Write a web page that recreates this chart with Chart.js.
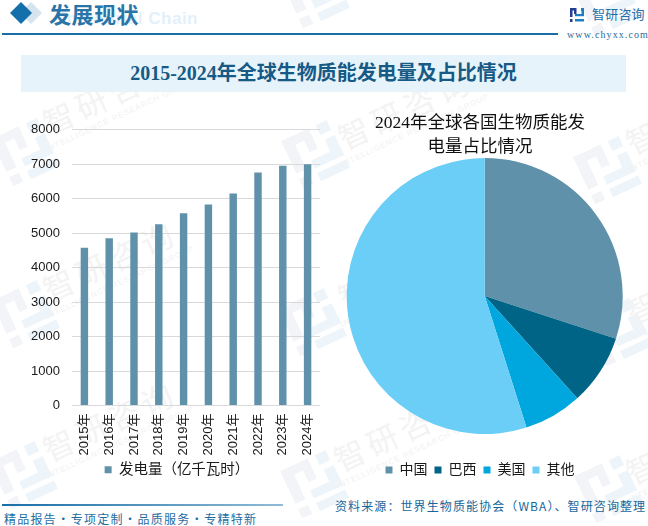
<!DOCTYPE html>
<html lang="zh">
<head>
<meta charset="utf-8">
<title>全球生物质能发电量</title>
<script src="https://cdn.jsdelivr.net/npm/chart.js@4"></script>
<style>
  html, body { margin: 0; padding: 0; background: #fff; }
  #page { position: relative; width: 648px; height: 526px; overflow: hidden; font-family: "Noto Sans CJK SC", sans-serif; }
  #page > * { position: absolute; }
  #page div { white-space: nowrap; }
  #marks { left: 0; top: 0; }
  #heading { left: 49px; top: -3px; font-size: 22px; line-height: 32px; font-weight: 700; color: #2a75a8; letter-spacing: 0.5px; }
  #ghost { right: 450px; top: 7px; font: 700 17px/24px "Liberation Sans", sans-serif; color: #e3f0fa; letter-spacing: 0.5px; }
  #rule { left: 2px; top: 33px; width: 556px; height: 2px; background: #1a6ea6; }
  #band { left: 21px; top: 55px; width: 605px; height: 37px; background: #e6f3fb; text-align: center; font: 700 20px/37px "Liberation Serif", "Noto Sans CJK SC", serif; color: #165a85; }
  #brand { left: 592px; top: 5px; font-size: 13px; line-height: 18px; color: #1f6da6; letter-spacing: 0.2px; }
  #site { left: 567px; top: 28px; font: 10px/14px "Liberation Serif", serif; color: #2a6a9b; letter-spacing: 1.1px; }
  #foot-rule { left: 2px; top: 504px; width: 281px; height: 2px; background: linear-gradient(90deg, #1a6ea6, #8fbbd6); }
  #slogan { left: 4px; top: 510px; font-size: 12px; line-height: 18px; color: #1f6d9f; letter-spacing: 1.2px; word-spacing: -3.5px; }
  #source { left: 335px; top: 497px; font-size: 12px; line-height: 18px; color: #16679c; letter-spacing: 1.1px; }
  #bars { left: 0; top: 110px; }
  #pie { left: 330px; top: 105px; }
</style>
</head>
<body>
<div id="page">
  <svg id="marks" width="648" height="526"></svg>
  <div id="ghost">Industrial Chain</div>
  <div id="heading">发展现状</div>
  <div id="rule"></div>
  <div id="band">2015-2024年全球生物质能发电量及占比情况</div>
  <div id="brand">智研咨询</div>
  <div id="site">www.chyxx.com</div>
  <canvas id="pie" width="300" height="382"></canvas>
  <canvas id="bars" width="330" height="377"></canvas>
  <div id="foot-rule"></div>
  <div id="slogan">精品报告 · 专项定制 · 品质服务 · 专精特新</div>
  <div id="source">资料来源：世界生物质能协会（WBA）、智研咨询整理</div>
</div>
<script>
const years = ["2015年", "2016年", "2017年", "2018年", "2019年", "2020年", "2021年", "2022年", "2023年", "2024年"];
const generation = [4580, 4850, 5020, 5260, 5580, 5830, 6150, 6760, 6960, 7000];
const generationLabel = "发电量（亿千瓦时）";

const countries = ["中国", "巴西", "美国", "其他"];
const shares = [30, 8.3, 6.8, 54.9];
const pieColors = ["#5f92aa", "#006487", "#00a6de", "#6bcef6"];
const pieTitle = ["2024年全球各国生物质能发", "电量占比情况"];

const sansStack = '"Liberation Sans", "Noto Sans CJK SC", sans-serif';
const serifStack = '"Liberation Serif", "Noto Sans CJK SC", serif';

// background logo tiles and header diamonds
const logoAt = [[25, 150], [25, 312], [23, 473], [315, -8], [315, 152], [312, 320], [314, 482], [607, 0], [607, 168], [618, 330], [608, 487]];
const wordAt = [[115, 105], [115, 272], [115, 432], [410, 120], [410, 280], [406, 442], [698, 125], [698, 295], [698, 455]];

function logoShape(x, y) {
  return `<g transform="translate(${x} ${y}) rotate(-25)">
    <g fill="#f2f4f7"><rect x="-26" y="-24" width="11" height="36"/><rect x="-26" y="-24" width="30" height="9"/><rect x="-5" y="-24" width="9" height="22"/><rect x="-26" y="18" width="11" height="10"/></g>
    <g fill="#eef5fa"><rect x="12" y="-24" width="12" height="11"/><rect x="-7" y="6" width="32" height="9"/><rect x="14" y="-7" width="11" height="22"/><rect x="-7" y="20" width="32" height="9"/></g>
  </g>`;
}
function wordShape(x, y) {
  return `<g transform="translate(${x} ${y}) rotate(-25)" text-anchor="middle">
    <text font-size="31" y="0" fill="#f3f3f4" font-family="Noto Sans CJK SC" letter-spacing="5">智研咨询</text>
    <text font-size="8" y="14" fill="#f1f2f4" font-family="Liberation Sans" letter-spacing="1">INTELLIGENCE RESEARCH GROUP</text>
  </g>`;
}
document.getElementById("marks").innerHTML =
  logoAt.map(p => logoShape(p[0], p[1])).join("") +
  wordAt.map(p => wordShape(p[0], p[1])).join("") +
  `<polygon points="31,2 42,13 31,24 20,13" fill="#d5e4ee"/>
   <polygon points="21,2 32,13 21,24 10,13" fill="#1470ab"/>
   <g transform="translate(570 8)">
     <rect x="0" y="0" width="6" height="2.5" fill="#22408f"/><rect x="0" y="0" width="2.5" height="9" fill="#22408f"/><rect x="0" y="11" width="2.5" height="3" fill="#22408f"/>
     <rect x="4" y="0" width="2.5" height="6" fill="#22408f"/><rect x="11" y="0" width="3" height="3" fill="#1f7fc4"/>
     <rect x="5" y="6" width="9" height="2.2" fill="#1f7fc4"/><rect x="11.5" y="3" width="2.5" height="5" fill="#1f7fc4"/><rect x="5" y="11" width="9" height="2.5" fill="#1f7fc4"/>
   </g>`;

Chart.defaults.animation = false;
Chart.defaults.responsive = false;
Chart.defaults.color = "#1a1a1a";

// legend sits a little right of the plot centre
const legendShift = {
  id: "legendShift",
  afterLayout(chart) {
    chart.legend.left += 17;
    chart.legend.right += 17;
  },
};

new Chart(document.getElementById("bars"), {
  type: "bar",
  plugins: [legendShift],
  data: {
    labels: years,
    datasets: [
      {
        label: generationLabel,
        data: generation,
        backgroundColor: "#5f92aa",
        barPercentage: 0.3,
        categoryPercentage: 1,
      },
    ],
  },
  options: {
    layout: { padding: { top: 18, right: 10 } },
    scales: {
      y: {
        min: 0,
        max: 8000,
        ticks: {
          stepSize: 1000,
          padding: 12,
          font: { family: sansStack, size: 13 },
          format: { useGrouping: false },
        },
        grid: { color: "#d9d9d9", drawTicks: false },
        border: { display: false },
        afterFit: (scale) => { scale.width = 72; },
      },
      x: {
        ticks: { minRotation: 90, maxRotation: 90, padding: 0, font: { family: sansStack, size: 13 } },
        grid: { display: false },
        border: { display: false },
        afterFit: (scale) => { scale.height = 54; },
      },
    },
    plugins: {
      title: { display: false },
      tooltip: { enabled: false },
      legend: {
        position: "bottom",
        labels: { boxWidth: 7, boxHeight: 7, padding: 3, font: { family: sansStack, size: 14.5 } },
      },
    },
  },
});

// keeps the disc in a fixed box, independent of the title and legend heights
const pieBox = {
  id: "pieBox",
  afterLayout(chart) {
    const area = chart.chartArea;
    area.left = 16.7;
    area.right = 292.7;
    area.top = 53;
    area.bottom = 329;
    area.width = area.right - area.left;
    area.height = area.bottom - area.top;
  },
};

new Chart(document.getElementById("pie"), {
  type: "pie",
  plugins: [pieBox],
  data: {
    labels: countries,
    datasets: [
      {
        data: shares,
        backgroundColor: pieColors,
        borderWidth: 0,
      },
    ],
  },
  options: {
    plugins: {
      tooltip: { enabled: false },
      title: {
        display: true,
        text: pieTitle,
        color: "#111",
        padding: { top: 6, bottom: 0 },
        font: { family: serifStack, size: 17.5, weight: "normal", lineHeight: 1.37 },
      },
      legend: {
        position: "bottom",
        labels: { boxWidth: 7, boxHeight: 7, padding: 7, font: { family: sansStack, size: 14 } },
      },
    },
  },
});
</script>
</body>
</html>
